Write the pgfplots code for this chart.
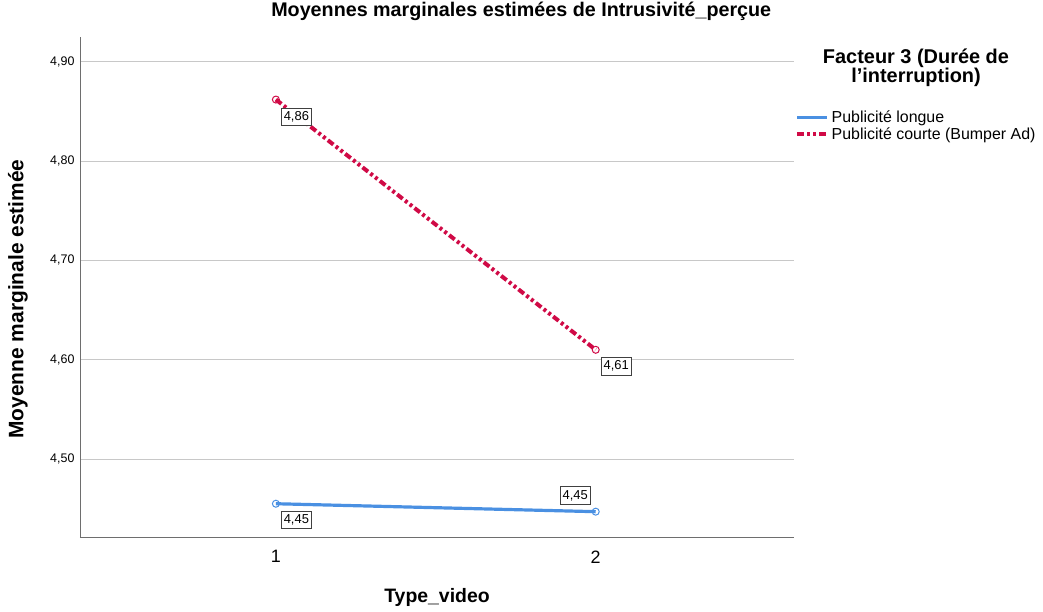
\documentclass[border=0pt]{standalone}
\usepackage{pgfplots}
\pgfplotsset{compat=1.18}
\usepackage{fontspec}
\setmainfont{Liberation Sans}
\definecolor{sblue}{RGB}{74,144,226}
\definecolor{sred}{RGB}{208,10,70}
\definecolor{gridgray}{RGB}{200,200,200}
\definecolor{axgray}{RGB}{110,110,110}
\begin{document}
\begin{tikzpicture}[x=1bp,y=1bp]
\path[use as bounding box] (-80,-75) rectangle (963,537);
\begin{axis}[
  at={(0,0)}, anchor=south west,
  scale only axis, width=714bp, height=500bp,
  xmin=0.3875, xmax=2.62, ymin=4.4215, ymax=4.925,
  axis x line*=bottom, axis y line*=left,
  axis line style={draw=axgray, line width=0.8pt},
  xtick={1,2}, xticklabels={1,2},
  ytick={4.5,4.6,4.7,4.8,4.9},
  yticklabels={{4,50},{4,60},{4,70},{4,80},{4,90}},
  major tick length=0pt,
  ymajorgrids, grid style={draw=gridgray, line width=0.8pt},
  yticklabel style={font=\fontsize{12.5}{14}\selectfont, xshift=-2bp},
  xticklabel style={font=\fontsize{18}{20}\selectfont, yshift=-10bp},
  title={\bfseries Moyennes marginales estimées de Intrusivité\_perçue},
  title style={font=\fontsize{19.8}{22}\selectfont, at={(axis description cs:0.618,1.04)}, anchor=center},
  xlabel={\bfseries Type\_video},
  xlabel style={font=\fontsize{19.5}{22}\selectfont, at={(axis description cs:0.5,-0.12)}, anchor=center},
  ylabel={\bfseries Moyenne marginale estimée},
  ylabel style={font=\fontsize{21}{23}\selectfont, at={(axis description cs:-0.0868,0.476)}, anchor=center},
  legend style={at={(axis description cs:1.0014,0.855)}, anchor=north west, draw=none, fill=none,
    font=\fontsize{16}{18}\selectfont, row sep=0pt, inner sep=0pt,
    nodes={inner xsep=2.5bp, inner ysep=1.5bp}},
  legend cell align=left,
  legend image code/.code={\draw[#1] (0bp,0bp) -- (30bp,0bp);},
  clip=false,
]
\addplot[sblue, line width=3.2bp, mark=o, mark size=3.5bp, mark options={solid, line width=1bp}]
  coordinates {(1,4.455) (2,4.447)};
\addlegendentry{Publicité longue}
\addplot[sred, line width=4bp, dash pattern=on 7bp off 3bp on 3bp off 3bp on 3bp off 3bp, mark=o, mark size=3.5bp, mark options={solid, line width=1bp}]
  coordinates {(1,4.862) (2,4.610)};
\addlegendentry{Publicité courte (Bumper Ad)}
\tikzset{vlab/.style={draw=black!75, line width=0.8pt, fill=white, inner xsep=2.5bp, inner ysep=3.5bp, font=\fontsize{13}{15}\selectfont}}
\node[vlab, anchor=north west] at (axis cs:1,4.862) [xshift=5bp, yshift=-8bp] {4,86};
\node[vlab, anchor=north west] at (axis cs:2,4.610) [xshift=5bp, yshift=-7bp] {4,61};
\node[vlab, anchor=north west] at (axis cs:1,4.455) [xshift=5bp, yshift=-7bp] {4,45};
\node[vlab, anchor=south east] at (axis cs:2,4.447) [xshift=-5bp, yshift=7bp] {4,45};
\end{axis}
\node[font=\fontsize{20}{19}\selectfont\bfseries, align=center] at (836,469) {Facteur 3 (Durée de\\l'interruption)};
\end{tikzpicture}
\end{document}
